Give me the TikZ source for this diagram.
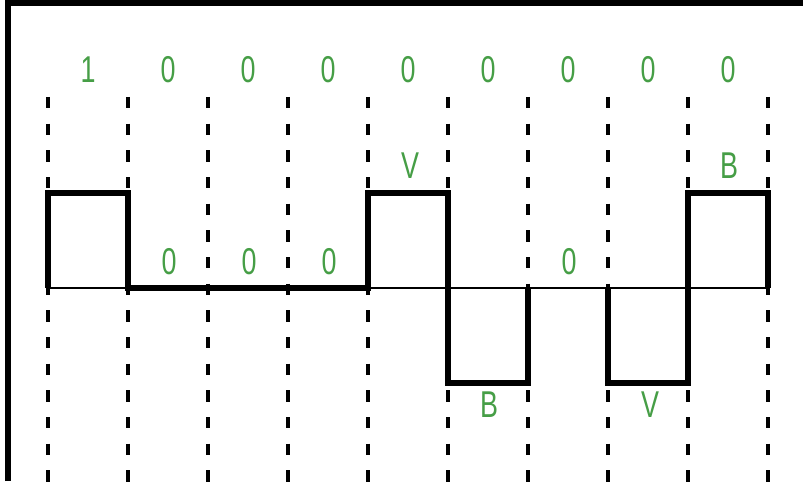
\documentclass[tikz,border=0pt]{standalone}
\usepackage{fontspec}
\setmainfont{Liberation Sans}
\definecolor{bitgreen}{RGB}{70,158,70}
\newcommand{\bitlbl}[1]{\scalebox{0.72}[1]{\fontsize{28}{28}\selectfont #1}}
\begin{document}
\begin{tikzpicture}[x=0.75pt,y=-0.75pt,
  slot/.style={line width=3.3pt,dash pattern=on 8.5pt off 11.5pt},
  signal/.style={line width=4.8pt,line join=miter},
  lbl/.style={text=bitgreen,inner sep=0pt}]
\fill[white] (0,0) rectangle (803,485);
\useasboundingbox (0,0) rectangle (803,485);

% frame
\draw[line width=4.5pt] (8,481) -- (8,3) -- (803,3);

% bit slots
\foreach \i in {0,...,9}
  \draw[slot] (48+80*\i,97) -- (48+80*\i,485);

% zero level
\draw[line width=2pt] (48,288) -- (768,288);

% B8ZS waveform
\draw[signal] (48,288) -- (48,193) -- (128,193) -- (128,288) -- (368,288)
  -- (368,193) -- (448,193) -- (448,383) -- (528,383) -- (528,288);
\draw[signal] (608,288) -- (608,383) -- (688,383) -- (688,193)
  -- (768,193) -- (768,288);

% data bits
\foreach \b [count=\i from 0] in {1,0,0,0,0,0,0,0,0}
  \node[lbl] (bit\i) at (88+80*\i,70) {\bitlbl{\b}};

% pulse labels
\node[lbl] (z1) at (169,262) {\bitlbl{0}};
\node[lbl] (z2) at (249,262) {\bitlbl{0}};
\node[lbl] (z3) at (329,262) {\bitlbl{0}};
\node[lbl] (z4) at (569,262) {\bitlbl{0}};
\node[lbl] (v1) at (410,166) {\bitlbl{V}};
\node[lbl] (b1) at (489,405) {\bitlbl{B}};
\node[lbl] (v2) at (650,405) {\bitlbl{V}};
\node[lbl] (b2) at (729,166) {\bitlbl{B}};
\end{tikzpicture}
\end{document}
